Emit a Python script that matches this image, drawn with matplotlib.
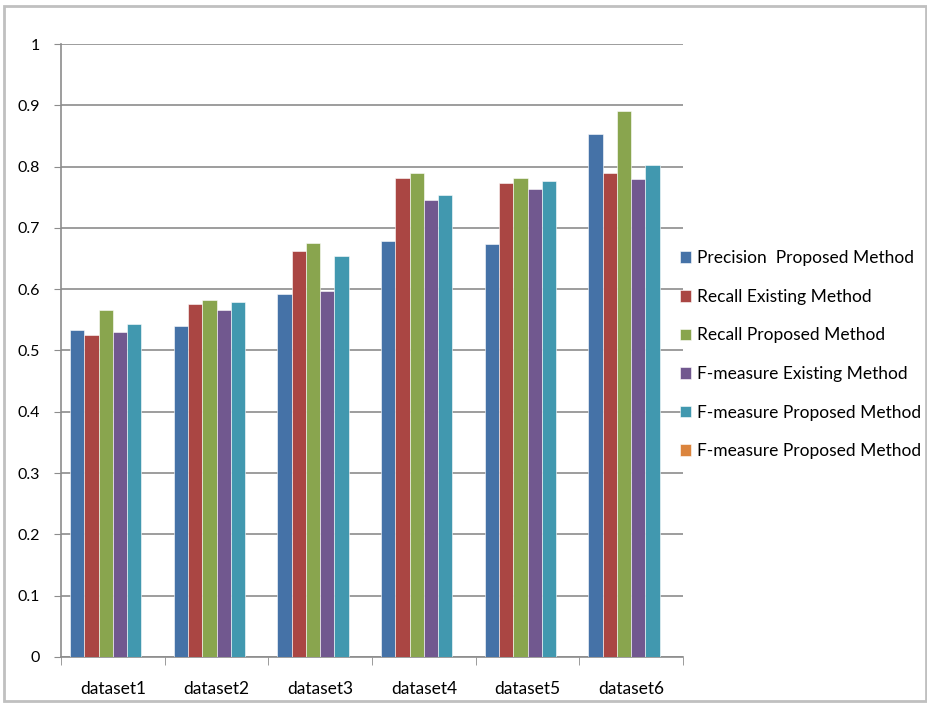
import numpy as np
import matplotlib.pyplot as plt
from matplotlib.patches import Rectangle

datasets = ["dataset1", "dataset2", "dataset3", "dataset4", "dataset5", "dataset6"]
precision_proposed = [0.534, 0.540, 0.592, 0.678, 0.673, 0.853]
recall_existing    = [0.525, 0.576, 0.662, 0.782, 0.774, 0.790]
recall_proposed    = [0.566, 0.582, 0.675, 0.790, 0.782, 0.891]
fmeasure_existing  = [0.530, 0.566, 0.597, 0.745, 0.763, 0.779]
fmeasure_proposed  = [0.543, 0.579, 0.654, 0.753, 0.777, 0.802]
fmeasure_empty     = [np.nan] * 6   # sixth series has no values, only a legend entry

labels = ["Precision  Proposed Method", "Recall Existing Method", "Recall Proposed Method",
          "F-measure Existing Method", "F-measure Proposed Method", "F-measure Proposed Method"]
colors = ["#4572A7", "#AA4643", "#89A54E", "#71588F", "#4198AF", "#DB843D"]

series = [precision_proposed, recall_existing, recall_proposed,
          fmeasure_existing, fmeasure_proposed, fmeasure_empty]

plt.rcParams['font.family'] = ['Lato', 'DejaVu Sans']

fig = plt.figure(figsize=(9.27, 7.04), dpi=100)
ax = fig.add_axes([0.0658, 0.0668, 0.671, 0.8707])

x = np.arange(len(datasets))
w = 0.138
for i, vals in enumerate(series):
    ax.bar(x - 2.5 * w + i * w, vals, width=w, color=colors[i],
           edgecolor="white", linewidth=0.4, label=labels[i], zorder=3)

ax.set_xlim(-0.5, len(datasets) - 0.5)
ax.set_ylim(0, 1)
ax.set_yticks(np.arange(0, 1.01, 0.1))
ax.set_yticklabels(["0", "0.1", "0.2", "0.3", "0.4", "0.5", "0.6", "0.7", "0.8", "0.9", "1"])
ax.yaxis.grid(True, color="#8c8c8c", linewidth=1.2, zorder=0)

ax.set_xticks(x)
ax.set_xticklabels(datasets)
ax.set_xticks(np.arange(-0.5, len(datasets), 1), minor=True)
ax.tick_params(axis="x", which="major", length=0, pad=17, labelsize=12.5)
ax.tick_params(axis="x", which="minor", length=6, color="#8c8c8c", direction="out")
ax.tick_params(axis="y", length=5, color="#8c8c8c", labelsize=11.5, pad=10)

for s in ["top", "right"]:
    ax.spines[s].set_visible(False)
for s in ["left", "bottom"]:
    ax.spines[s].set_color("#8c8c8c")
    ax.spines[s].set_linewidth(1.2)

ax.legend(loc="center left", bbox_to_anchor=(0.995, 0.493), frameon=False,
          fontsize=12.5, labelspacing=1.3, handlelength=0.65, handleheight=0.65,
          handletextpad=0.35, borderaxespad=0, borderpad=0)

# window frame around the chart
fig.patches.append(Rectangle((0.004, 0.004), 0.995, 0.988, transform=fig.transFigure,
                             fill=False, edgecolor="#c0c0c0", linewidth=2))

fig.savefig("out.png", dpi=100)
